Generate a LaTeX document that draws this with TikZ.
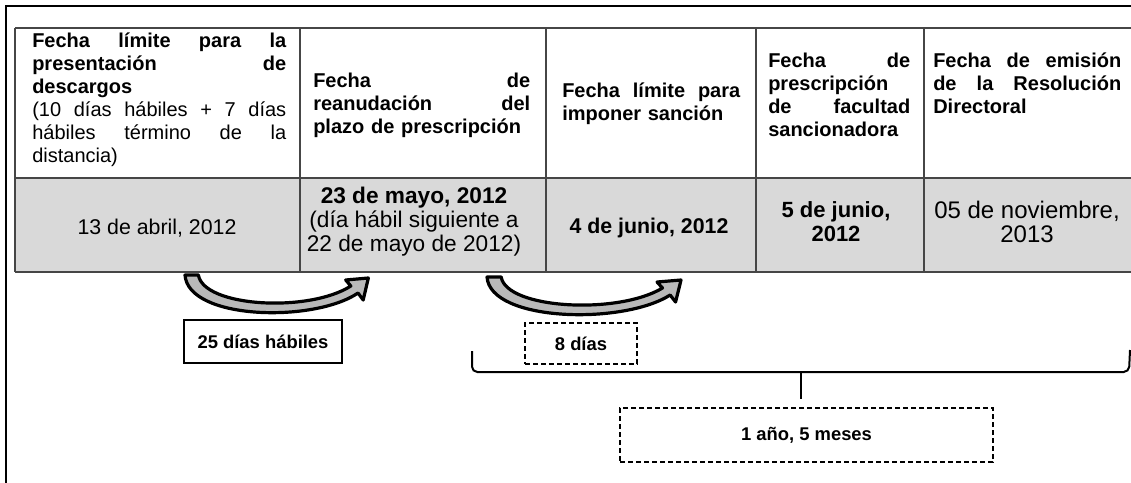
\documentclass[tikz,border=0pt]{standalone}
\usepackage{fontspec}
\setmainfont{Liberation Sans}

\begin{document}
\begin{tikzpicture}[x=0.75pt,y=-0.75pt,
    hd/.style={inner sep=0pt,anchor=base west,align=left,font=\fontsize{15}{17.25}\selectfont\bfseries},
    dt/.style={inner sep=0pt,align=center},
    lbl/.style={draw,line width=1.5pt,inner sep=0pt,font=\fontsize{13.8}{16}\selectfont\bfseries},
    dsh/.style={line width=1.2pt,dash pattern=on 4pt off 2pt}]
  \useasboundingbox (0,0) rectangle (1131,482);
  \draw [line width=1.2pt] (6,490) -- (6,6) -- (1140,6);
  \fill [gray!30] (15,178) rectangle (1140,272);
  \foreach \y in {28,178,272}
    \draw [gray!55!black,line width=1pt] (15,\y) -- (1140,\y);
  \foreach \x in {15,300,546,756,924}
    \draw [gray!55!black,line width=1pt] (\x,28) -- (\x,272);

  \node [hd,text width=190.5pt] (h1) at (32,47) {Fecha\hfill límite\hfill para\hfill la\\presentación\hfill de\\descargos\\\mdseries(10\hfill días\hfill hábiles\hfill +\hfill 7\hfill días\\hábiles\hfill término\hfill de\hfill la\\distancia)};
  \node [hd,text width=162.75pt] (h2) at (313,87) {Fecha\hfill de\\reanudación\hfill del\\plazo de prescripción};
  \node [hd,text width=133.5pt] (h3) at (562,97) {Fecha\hfill límite\hfill para\\imponer sanción};
  \node [hd,text width=106.5pt] (h4) at (768,67) {Fecha\hfill de\\prescripción\\de\hfill facultad\\sancionadora};
  \node [hd,text width=141pt] (h5) at (933,67) {Fecha\hfill de\hfill emisión\\de\hfill la\hfill Resolución\\Directoral};

  \node [dt,font=\fontsize{16}{19}\selectfont] (d1) at (157,228) {13 de abril, 2012};
  \node [dt,font=\fontsize{17}{18}\selectfont] (d2) at (414,222) {\textbf{23 de mayo, 2012}\\(día hábil siguiente a\\22 de mayo de 2012)};
  \node [dt,font=\fontsize{16}{18}\selectfont\bfseries] (d3) at (649,228) {4 de junio, 2012};
  \node [dt,font=\fontsize{16.5}{18}\selectfont\bfseries] (d4) at (836,222) {5 de junio,\\2012};
  \node [dt,font=\fontsize{18}{18}\selectfont] (d5) at (1027,222) {05 de noviembre,\\2013};

  \foreach \ax/\ay/\sx in {185/275/1.03,487/277/1.09}
  {
    \begin{scope}[shift={(\ax,\ay)},xscale=\sx]
      \filldraw [fill=gray!55,line width=2.4pt,line join=round] (0,0) -- (13,0) .. controls (18,32) and (120,38) .. (161,11) -- (156,5) -- (178,3) -- (173,25) -- (168,18) .. controls (125,48) and (3,45) .. (0,0) -- cycle;
    \end{scope}
  }

  \node [lbl,minimum width=118.5pt,minimum height=32.25pt] (dias25) at (263,341.5) {25 días hábiles};
  \node [lbl,dsh,minimum width=84pt,minimum height=30.75pt] (dias8) at (581,343.5) {8 días};
  \node [lbl,dsh,minimum width=279.75pt,minimum height=40.5pt] (meses) at (806.5,435) {1 año, 5 meses};

  \draw [line width=1.5pt,rounded corners=4pt] (472,351) -- (472,372) -- (1129,372) -- (1130,350);
  \coordinate (bmid) at (801,372);
  \draw [line width=1.5pt,shorten >=6pt] (bmid) -- (bmid |- meses.north);
\end{tikzpicture}
\end{document}
